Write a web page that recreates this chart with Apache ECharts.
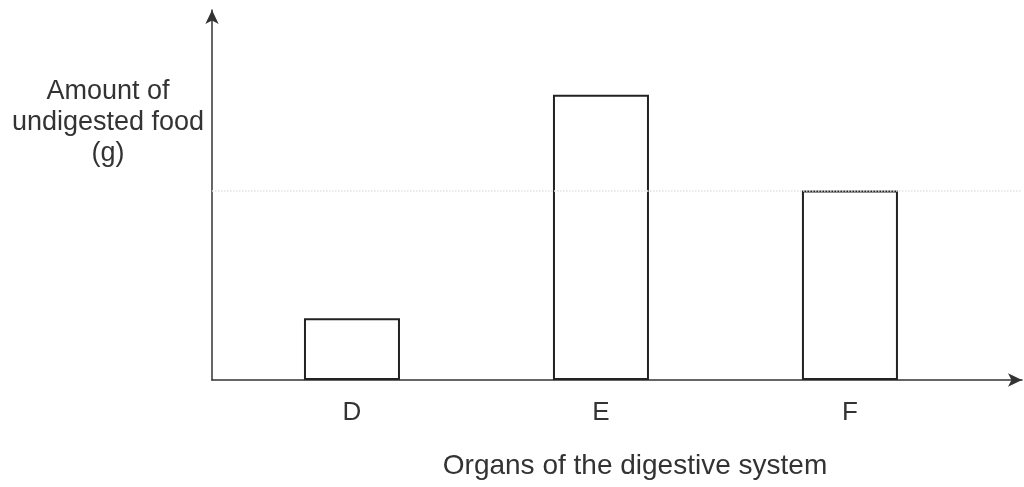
<!DOCTYPE html>
<html>
<head>
<meta charset="utf-8">
<script src="https://cdn.jsdelivr.net/npm/echarts@6/dist/echarts.min.js"></script>
<style>
  html, body { margin: 0; padding: 0; background: #fff; }
  #chart { width: 1024px; height: 487px; }
</style>
</head>
<body>
<div id="chart"></div>
<script>
var organs = ['D', 'E', 'F'];
var organPos = [1, 2, 3];
var undigested = [2, 9.25, 6.15];

(function () {
  var chart = echarts.init(document.getElementById('chart'));
  var ink = '#333';
  var font = '"Liberation Sans", Arial, sans-serif';

  var opt = {
    animation: false,
    // y axis name as a free text block left of the axis
    title: {
      text: 'Amount of\nundigested food\n(g)',
      left: 108,
      top: 76,
      textAlign: 'center',
      padding: 0,
      textStyle: { color: ink, fontSize: 27, fontWeight: 'normal', fontFamily: font, lineHeight: 31 }
    },
    grid: { left: 212, right: 2, top: 10, bottom: 107, outerBoundsMode: 'none', containLabel: false },
    xAxis: {
      type: 'value',
      min: 0.4378,
      max: 3.691,
      name: 'Organs of the digestive system',
      nameLocation: 'middle',
      nameGap: 72,
      nameTextStyle: { color: ink, fontSize: 28, fontFamily: font, padding: [0, 0, 0, 36] },
      axisLine: {
        onZero: false,
        symbol: ['none', 'arrow'],
        symbolSize: [10, 14],
        lineStyle: { color: ink, width: 1.5 }
      },
      axisTick: { show: false },
      splitLine: { show: false },
      axisLabel: {
        customValues: organPos,
        margin: 20,
        color: ink,
        fontSize: 26,
        fontFamily: font,
        formatter: function (v) {
          var i = organPos.indexOf(v);
          return i >= 0 ? organs[i] : '';
        }
      }
    },
    yAxis: {
      type: 'value',
      min: 0,
      max: 12,
      axisLine: {
        show: true,
        onZero: false,
        symbol: ['none', 'arrow'],
        symbolSize: [10, 14],
        lineStyle: { color: ink, width: 1.5 }
      },
      axisTick: { show: false },
      axisLabel: { show: false },
      splitLine: { show: false }
    },
    series: [{
      type: 'bar',
      barWidth: 96,
      data: organPos.map(function (p, i) { return [p, undigested[i]]; }),
      itemStyle: { color: '#fff', borderColor: '#222', borderWidth: 2 },
      markLine: {
        silent: true,
        symbol: 'none',
        label: { show: false },
        lineStyle: { color: '#e2e2e2', type: 'dotted', width: 1.5 },
        data: [{ yAxis: undigested[2] }]
      }
    }]
  };
  chart.setOption(opt);
})();
</script>
</body>
</html>
